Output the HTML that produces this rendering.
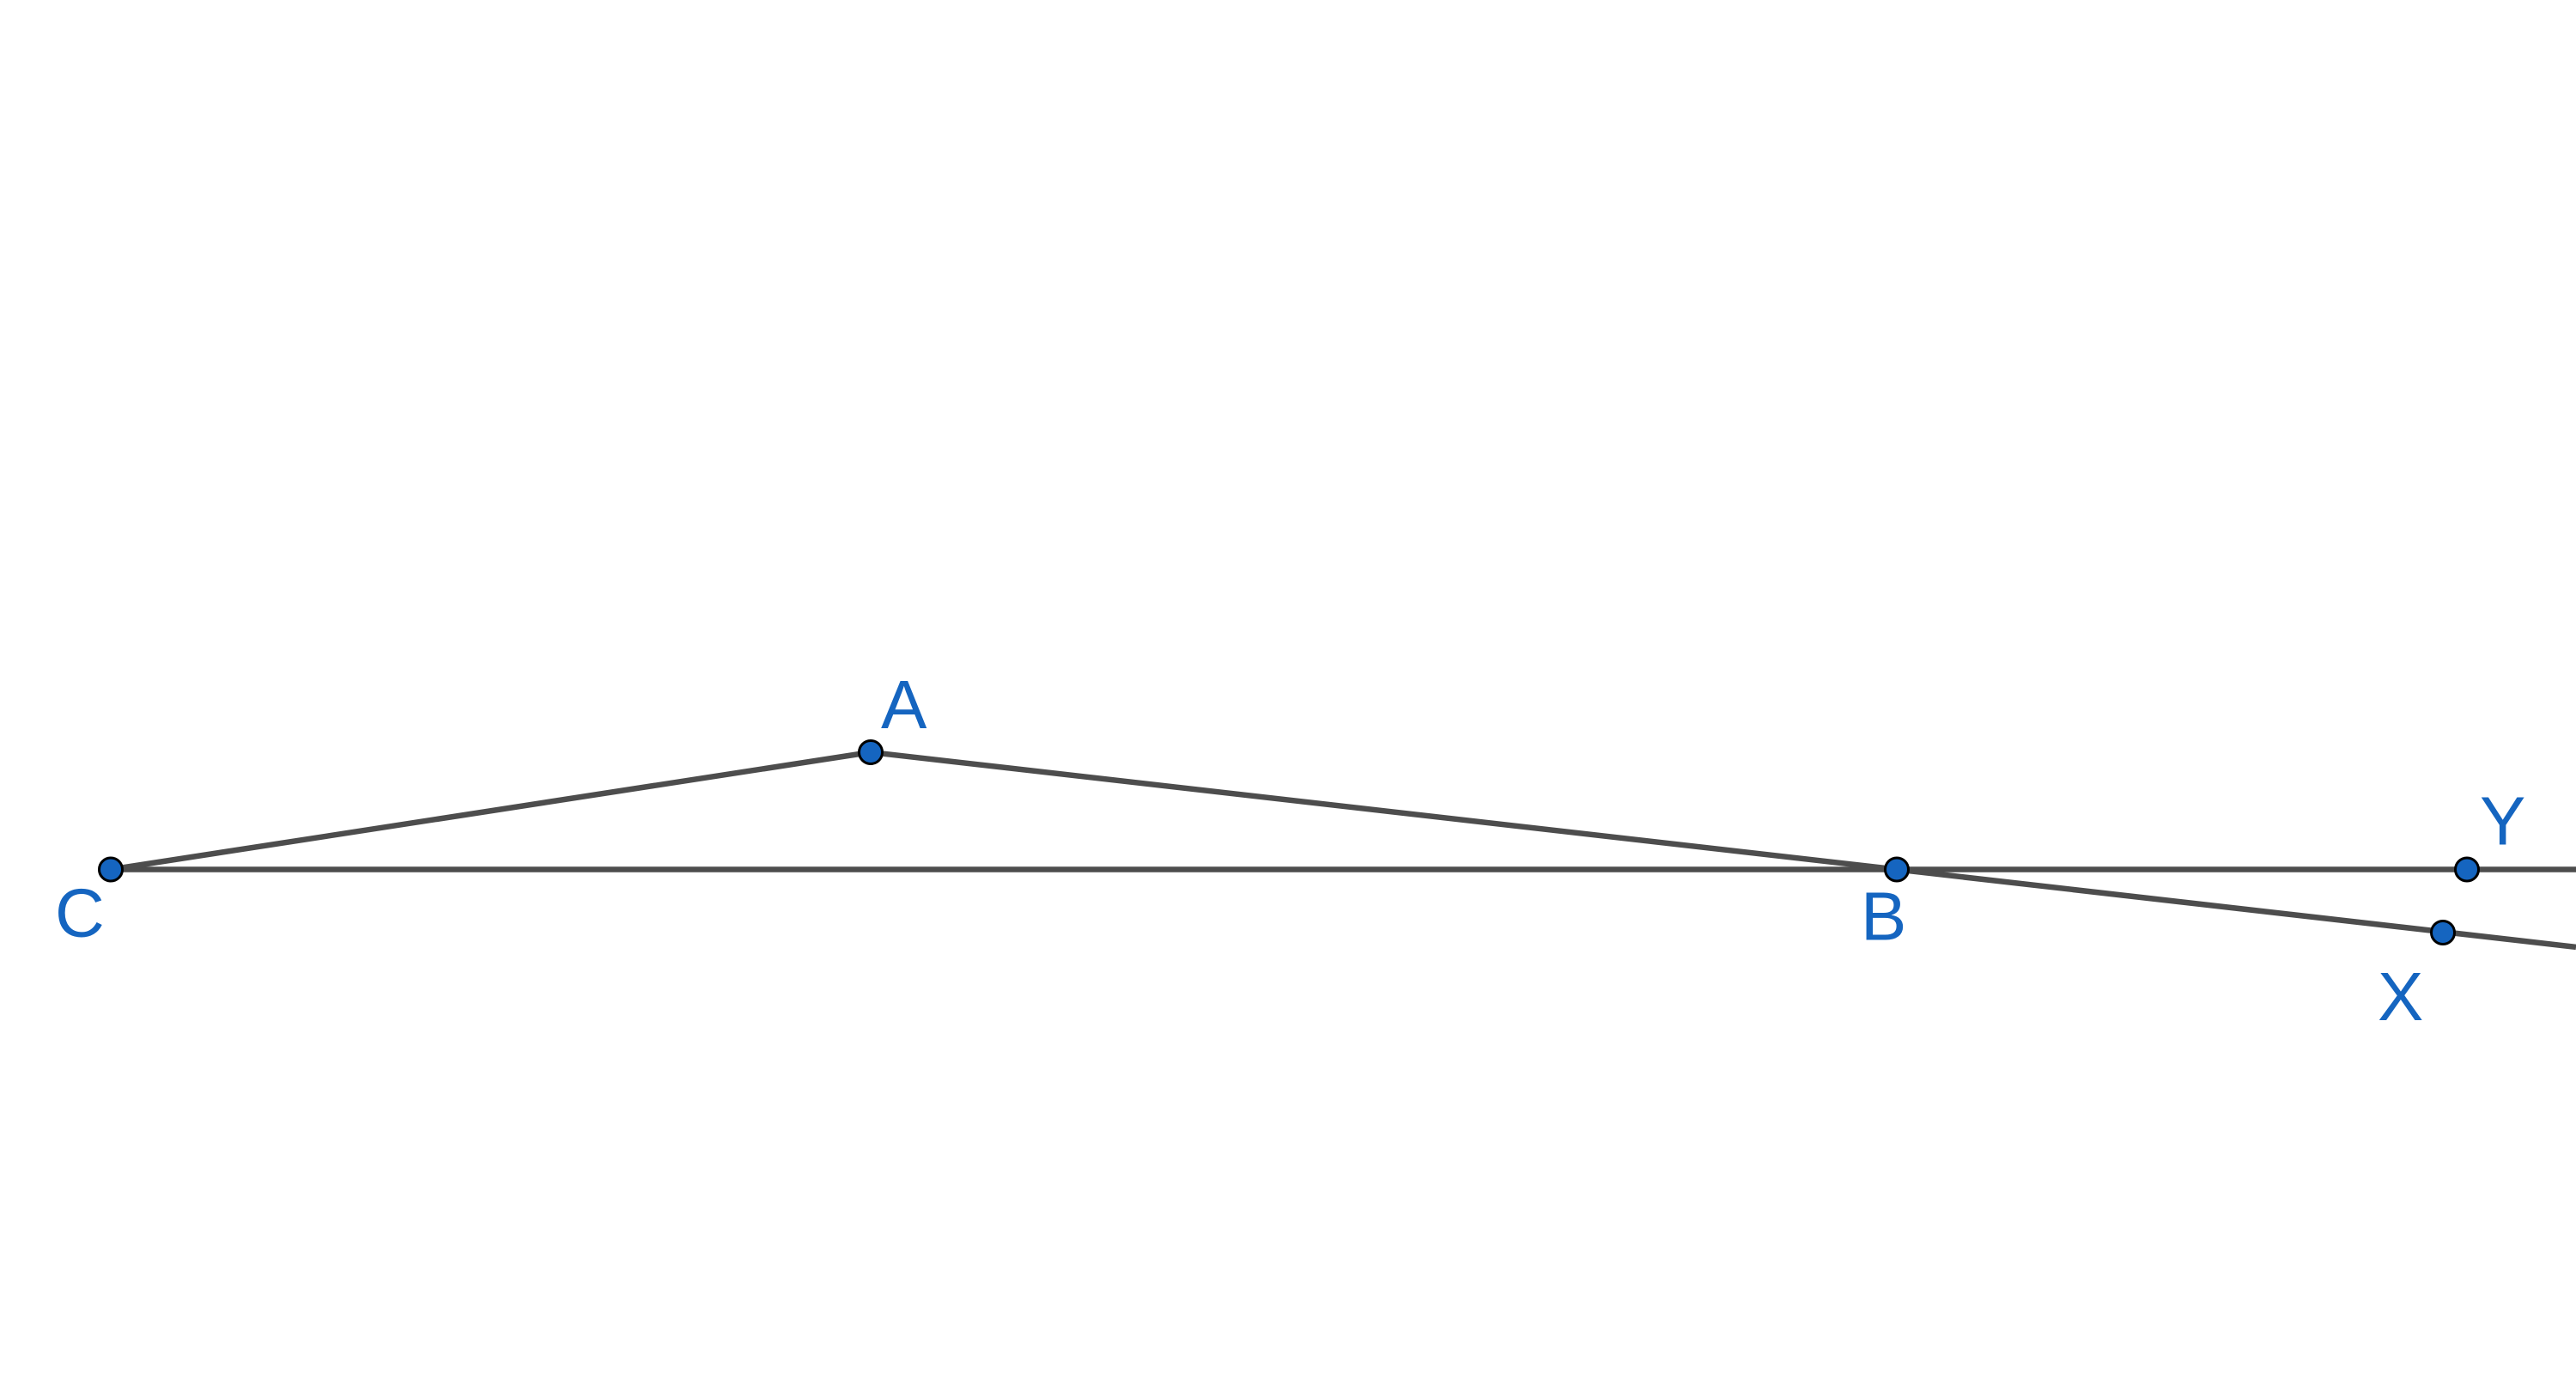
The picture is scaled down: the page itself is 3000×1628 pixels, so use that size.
<!DOCTYPE html>
<html><head><meta charset="utf-8"><style>html,body{margin:0;padding:0;background:#fff}svg{display:block}</style></head>
<body>
<svg id="fig" width="3000" height="1628" viewBox="0 0 3000 1628" xmlns="http://www.w3.org/2000/svg">
<g id="lines"></g><g id="pts"></g><g id="lbls" font-family="Liberation Sans, sans-serif" font-size="80" fill="#1565c0"></g>
</svg>
<script>
const pointNames = ["C","A","B","Y","X"];
const pointX = [129,1014,2209,2873,2845];
const pointY = [1012.5,876,1012.5,1012.5,1086];
const labelDX = [-65,12,-42,15,-76];
const labelDY = [78,-28,82,-29,102];
const NS="http://www.w3.org/2000/svg";
const P=n=>{const i=pointNames.indexOf(n);return [pointX[i],pointY[i]];};
function mk(t,a,parent){const e=document.createElementNS(NS,t);for(const k in a)e.setAttribute(k,a[k]);parent.appendChild(e);return e;}
const L=document.getElementById('lines');
function ext(p,q){const s=(q[1]-p[1])/(q[0]-p[0]);return [3000,p[1]+s*(3000-p[0])];}
const C=P("C"),A=P("A"),B=P("B");
let e;
e=mk('line',{x1:C[0],y1:C[1],x2:3000,y2:ext(C,B)[1],stroke:'#4d4d4d','stroke-width':6.5},L);


e=mk('line',{x1:C[0],y1:C[1],x2:A[0],y2:A[1],stroke:'#4d4d4d','stroke-width':6.5},L);


const E=ext(A,B);
e=mk('line',{x1:A[0],y1:A[1],x2:E[0],y2:E[1],stroke:'#4d4d4d','stroke-width':6.5},L);


const G=document.getElementById('pts'),T=document.getElementById('lbls');
pointNames.forEach((n,i)=>{
  const c=mk('circle',{cx:pointX[i],cy:pointY[i],r:13.5,fill:'#1565c0',stroke:'#000','stroke-width':3},G);
  
  
  const t=mk('text',{x:pointX[i]+labelDX[i],y:pointY[i]+labelDY[i]},T);
  t.textContent=n;
  
  
});
</script>
</body></html>
